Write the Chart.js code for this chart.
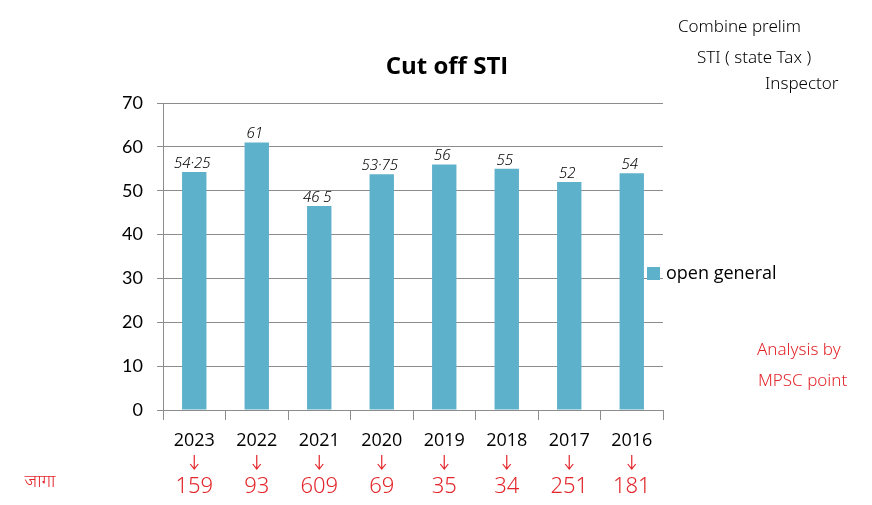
<!DOCTYPE html>
<html>
<head>
<meta charset="utf-8">
<script src="https://cdn.jsdelivr.net/npm/chart.js@4/dist/chart.umd.min.js"></script>
<style>
  html, body { margin: 0; padding: 0; background: #fff; }
  #wrap { width: 872px; height: 505px; }
</style>
</head>
<body>
<div id="wrap"><canvas id="cutoff"></canvas></div>
<script>
// data
const years = ["2023", "2022", "2021", "2020", "2019", "2018", "2017", "2016"];
const openGeneral = [54.25, 61, 46.5, 53.75, 56, 55, 52, 54];
const cutoffNotes = ["54·25", "61", "46 5", "53·75", "56", "55", "52", "54"];
const seats = ["159", "93", "609", "69", "35", "34", "251", "181"];
const yTicks = [0, 10, 20, 30, 40, 50, 60, 70];

const barColor = "#5db1ca";
const gridColor = "#8c8c8c";
const red = "#e3262b";
const hand = "'Noto Sans', 'Noto Sans Devanagari', sans-serif";

// handwritten notes, legend, title
const notesPlugin = {
    id: "notes",
    afterDatasetsDraw(chart) {
        const ctx = chart.ctx;
        const bars = chart.getDatasetMeta(0).data;
        ctx.save();

        // title
        ctx.fillStyle = "#000";
        ctx.font = "bold 24px 'Open Sans', sans-serif";
        ctx.textAlign = "center";
        ctx.textBaseline = "middle";
        ctx.fillText("Cut off STI", 447, 67);

        // legend
        ctx.fillStyle = barColor;
        ctx.fillRect(647, 267, 13, 13);
        ctx.fillStyle = "#000";
        ctx.font = "18px 'Open Sans', sans-serif";
        ctx.textAlign = "left";
        ctx.fillText("open general", 666, 274);

        // values above bars
        ctx.font = "italic 300 15px " + hand;
        ctx.textAlign = "center";
        ctx.textBaseline = "bottom";
        bars.forEach((b, i) => {
            ctx.fillText(cutoffNotes[i], b.x - 2, b.y - 1);
        });

        // arrows + seats
        ctx.strokeStyle = red;
        ctx.fillStyle = red;
        ctx.lineWidth = 1.2;
        bars.forEach((b, i) => {
            const x = b.x;
            ctx.beginPath();
            ctx.moveTo(x, 455);
            ctx.lineTo(x, 469);
            ctx.moveTo(x - 4, 464);
            ctx.lineTo(x, 469);
            ctx.lineTo(x + 4, 464);
            ctx.stroke();
            ctx.font = "300 22px " + hand;
            ctx.textBaseline = "middle";
            ctx.fillText(seats[i], x, 487);
        });
        ctx.font = "300 18px " + hand;
        ctx.fillText("जागा", 40, 482);

        // top-right note
        ctx.fillStyle = "#000";
        ctx.font = "300 17px " + hand;
        ctx.textAlign = "left";
        ctx.fillText("Combine prelim", 678, 27);
        ctx.fillText("STI ( state Tax )", 697, 58);
        ctx.fillText("Inspector", 765, 84);

        // bottom-right note
        ctx.fillStyle = red;
        ctx.font = "300 17px " + hand;
        ctx.fillText("Analysis by", 757, 350);
        ctx.fillText("MPSC point", 758, 381);
        ctx.restore();
    }
};

const canvas = document.getElementById("cutoff");
const ctx = canvas.getContext("2d");

const chart = new Chart(ctx, {
    type: "bar",
    data: {
        labels: years,
        datasets: [
            {
                label: "open general",
                data: openGeneral,
                backgroundColor: barColor,
                borderWidth: 0,
                categoryPercentage: 1,
                barPercentage: 0.39
            }
        ]
    },
    options: {
        responsive: true,
        maintainAspectRatio: false,
        animation: false,
        layout: { padding: { left: 110, right: 209, top: 103, bottom: 0 } },
        plugins: {
            legend: { display: false },
            title: { display: false },
            tooltip: { enabled: false }
        },
        scales: {
            x: {
                grid: { offset: true, drawOnChartArea: false, tickLength: 10, color: gridColor },
                border: { color: gridColor },
                ticks: { color: "#000", font: { size: 18, weight: "500", family: "'Open Sans', sans-serif" }, padding: 10 },
                afterFit(scale) { scale.height = 95; }
            },
            y: {
                min: 0,
                max: 70,
                afterBuildTicks(scale) { scale.ticks = yTicks.map(v => ({ value: v })); },
                grid: { color: gridColor, tickLength: 6 },
                border: { color: gridColor },
                ticks: { color: "#000", font: { size: 18, family: "Lato, sans-serif" }, padding: 14 },
                afterFit(scale) { scale.width = 53; }
            }
        }
    },
    plugins: [notesPlugin]
});
</script>
</body>
</html>
